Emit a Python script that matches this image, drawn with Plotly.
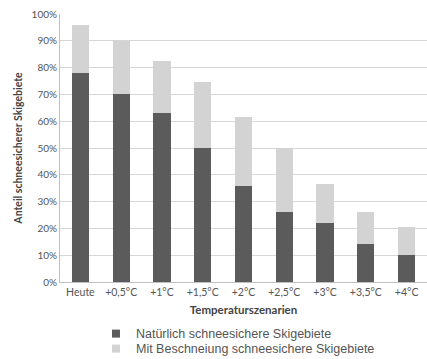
import plotly.graph_objects as go

# Szenarien und Anteile (in %)
szenarien = ["Heute", "+0,5°C", "+1°C", "+1,5°C", "+2°C", "+2,5°C", "+3°C", "+3,5°C", "+4°C"]
natuerlich = [78, 70, 63, 50, 36, 26, 22, 14, 10]
mit_beschneiung_gesamt = [96, 90, 82.5, 74.5, 61.5, 50, 36.5, 26, 20.5]
zusatz_beschneiung = [g - n for g, n in zip(mit_beschneiung_gesamt, natuerlich)]
y_ticks = list(range(0, 101, 10))

namen = ["Natürlich schneesichere Skigebiete", "Mit Beschneiung schneesichere Skigebiete"]
farben = ["#5b5b5b", "#d3d3d3"]
legenden = ["legend", "legend2"]

fig = go.Figure()
for werte, farbe, name in zip([natuerlich, zusatz_beschneiung], farben, namen):
    fig.add_trace(go.Bar(
        x=szenarien, y=werte, name=name, showlegend=False, legendgroup=name,
        marker=dict(color=farbe, line=dict(width=0)), width=0.42,
    ))
# kleine quadratische Legendensymbole, je Eintrag eine eigene Legende
for farbe, name, leg in zip(farben, namen, legenden):
    fig.add_trace(go.Scatter(
        x=[None], y=[None], mode="markers", name=name, legendgroup=name, legend=leg,
        marker=dict(symbol="square", size=8, color=farbe),
    ))

legend_style = dict(
    orientation="v", x=0.098, xanchor="left", yanchor="top",
    font=dict(family="Liberation Sans, Arial, sans-serif", size=12.5, color="#555555"),
    itemwidth=30, bgcolor="rgba(0,0,0,0)",
)

fig.update_layout(
    barmode="stack",
    width=427, height=359,
    margin=dict(l=60, r=0, t=14, b=77, autoexpand=False),
    paper_bgcolor="white", plot_bgcolor="white",
    font=dict(family="Lato, sans-serif", color="#555555", size=8),
    legend=dict(legend_style, y=-0.138),
    legend2=dict(legend_style, y=-0.194),
    xaxis=dict(
        showgrid=False, showline=True, linecolor="#bfbfbf", linewidth=1,
        ticks="", tickfont=dict(size=10.5, color="#555555"), tickangle=0,
        title=dict(text="<b>Temperaturszenarien</b>", font=dict(size=11.5, color="#444444"), standoff=9),
        range=[-0.5, 8.5], automargin=False,
    ),
    yaxis=dict(
        range=[0, 100], tickvals=y_ticks, ticktext=[f"{v}%" for v in y_ticks],
        showgrid=True, gridcolor="#d6d6d6", gridwidth=1,
        showline=True, linecolor="#bfbfbf", linewidth=1, zeroline=False,
        ticks="", tickfont=dict(size=10, color="#555555"), automargin=False,
        title=dict(text="<b>Anteil schneesicherer Skigebiete</b>", font=dict(size=10.5, color="#444444"), standoff=6),
    ),
)

fig.write_html("out.html")
